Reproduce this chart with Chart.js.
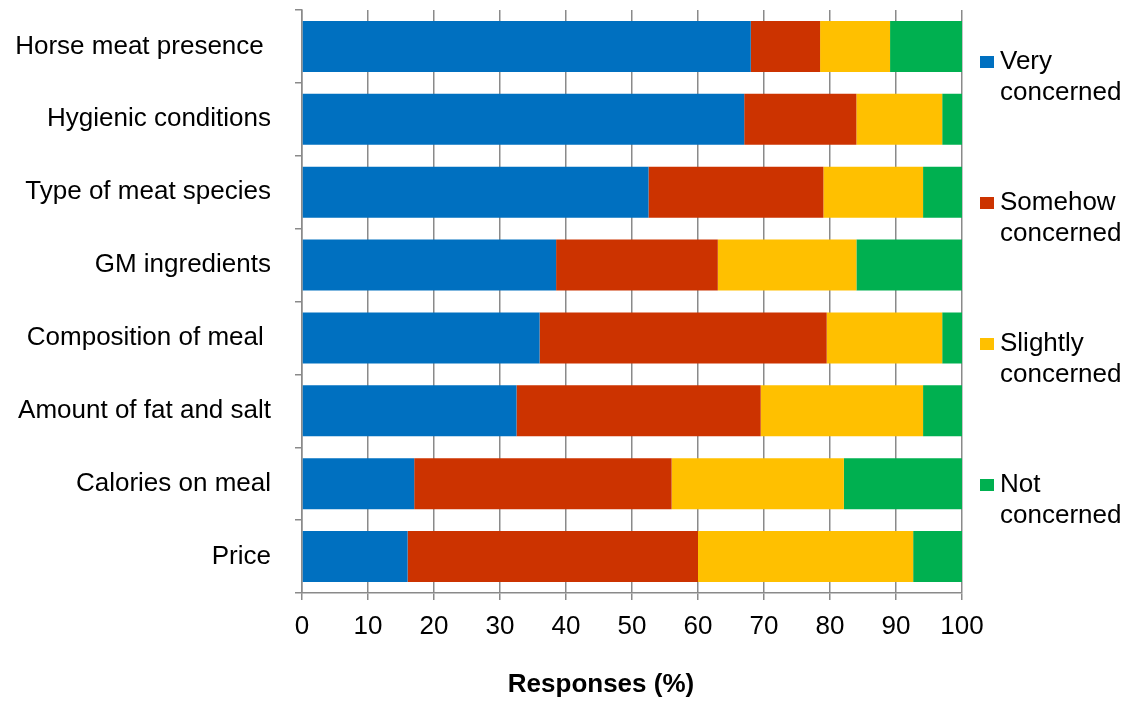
<!DOCTYPE html>
<html lang="en">
<head>
    <meta charset="UTF-8">
    <title>Concerns about ready meals</title>
    <script src="https://cdn.jsdelivr.net/npm/chart.js"></script>
    <style>
        body { margin: 0; background: #fff; font-family: "Liberation Sans", Arial, sans-serif; }
        .wrap { position: relative; width: 1136px; height: 702px; }
        .legend { position: absolute; left: 980px; top: 0; }
        .item { position: absolute; left: 0; width: 156px; font-size: 26px; line-height: 31px; color: #000; }
        .item span { position: absolute; left: 0; top: 11px; width: 14px; height: 12px; }
        .item div { margin-left: 20px; }
        .xtitle { position: absolute; left: 401px; width: 400px; top: 668px; line-height: 30px;
                  text-align: center; font-size: 26px; font-weight: bold; color: #000; }
    </style>
</head>
<body>
<div class="wrap">
    <canvas id="chart" width="1136" height="702"></canvas>
    <div class="legend" id="legend"></div>
    <div class="xtitle">Responses (%)</div>
</div>
<script>
    // categories, top to bottom
    const categories = ['Horse meat presence ', 'Hygienic conditions', 'Type of meat species', 'GM ingredients',
        'Composition of meal ', 'Amount of fat and salt', 'Calories on meal', 'Price'];
    const seriesNames = [['Very', 'concerned'], ['Somehow', 'concerned'], ['Slightly', 'concerned'], ['Not', 'concerned']];
    const veryConcerned = [68.0, 67.0, 52.5, 38.5, 36.0, 32.5, 17.0, 16.0];
    const somehowConcerned = [10.5, 17.0, 26.5, 24.5, 43.5, 37.0, 39.0, 44.0];
    const slightlyConcerned = [10.6, 13.0, 15.1, 21.0, 17.5, 24.6, 26.1, 32.6];
    const notConcerned = [10.9, 3.0, 5.9, 16.0, 3.0, 5.9, 17.9, 7.4];
    const colors = ['#0070C0', '#CC3300', '#FFC000', '#00B050'];

    Chart.defaults.font.family = '"Liberation Sans", Arial, sans-serif';
    Chart.defaults.color = '#000';

    const values = [veryConcerned, somehowConcerned, slightlyConcerned, notConcerned];
    const gridGray = '#8a8a8a';

    new Chart(document.getElementById('chart'), {
        type: 'bar',
        data: {
            labels: categories,
            datasets: values.map((v, i) => ({
                label: seriesNames[i].join(' '),
                data: v,
                backgroundColor: colors[i],
                borderWidth: 0,
                barPercentage: 0.7,
                categoryPercentage: 1
            }))
        },
        options: {
            responsive: false,
            animation: false,
            indexAxis: 'y',
            layout: { padding: { top: 10, right: 174, bottom: 0, left: 0 } },
            plugins: { legend: { display: false }, tooltip: { enabled: false } },
            scales: {
                x: {
                    stacked: true,
                    min: 0, max: 100,
                    ticks: { stepSize: 10, font: { size: 26 }, padding: 11 },
                    grid: { color: gridGray, lineWidth: 1.5, tickLength: 7 },
                    border: { color: gridGray, width: 1.5 },
                    afterFit(scale) { scale.height = 109; }
                },
                y: {
                    stacked: true,
                    ticks: { font: { size: 26 }, padding: 24 },
                    grid: { offset: true, drawOnChartArea: false, color: gridGray, lineWidth: 1.5, tickLength: 7 },
                    border: { color: gridGray, width: 1.5 },
                    afterFit(scale) {
                        scale.width = 302;
                        scale.paddingTop = 0;
                        scale.paddingBottom = 0;
                    }
                }
            }
        }
    });

    // legend on the right, two-line labels
    const legendTops = [45, 186, 327, 468];
    const legend = document.getElementById('legend');
    seriesNames.forEach((name, i) => {
        const item = document.createElement('div');
        item.className = 'item';
        item.style.top = legendTops[i] + 'px';
        item.innerHTML = '<span style="background:' + colors[i] + '"></span><div>' + name[0] + '<br>' + name[1] + '</div>';
        legend.appendChild(item);
    });
</script>
</body>
</html>
